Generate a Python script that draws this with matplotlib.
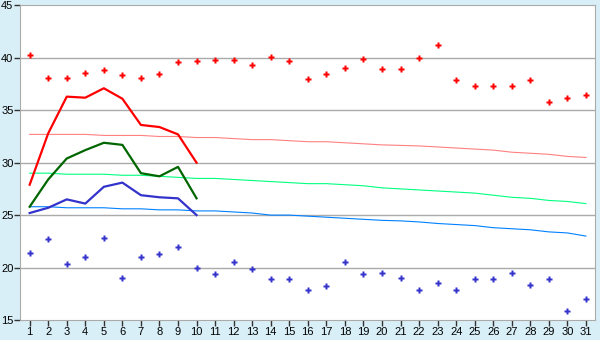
import numpy as np
import matplotlib.pyplot as plt

# %% Data
days = list(range(1, 32))

max_pts = [40.3, 38.1, 38.1, 38.6, 38.8, 38.4, 38.1, 38.5, 39.6, 39.7,
           39.8, 39.8, 39.3, 40.1, 39.7, 38.0, 38.5, 39.0, 39.9, 38.9,
           38.9, 40.0, 41.2, 37.9, 37.3, 37.3, 37.3, 37.9, 35.8, 36.2, 36.5]
min_pts = [21.4, 22.7, 20.3, 21.0, 22.8, 19.0, 21.0, 21.3, 22.0, 20.0,
           19.4, 20.5, 19.9, 18.9, 18.9, 17.9, 18.2, 20.5, 19.4, 19.5,
           19.0, 17.9, 18.5, 17.9, 18.9, 18.9, 19.5, 18.3, 18.9, 15.9, 17.0]

line_days = list(range(1, 11))
max_line = [27.9, 32.8, 36.3, 36.2, 37.1, 36.1, 33.6, 33.4, 32.7, 30.0]
mean_line = [25.8, 28.4, 30.4, 31.2, 31.9, 31.7, 29.0, 28.7, 29.6, 26.6]
min_line = [25.2, 25.7, 26.5, 26.1, 27.7, 28.1, 26.9, 26.7, 26.6, 25.0]

norm_max = [32.7, 32.7, 32.7, 32.7, 32.6, 32.6, 32.6, 32.5, 32.5, 32.4,
            32.4, 32.3, 32.2, 32.2, 32.1, 32.0, 32.0, 31.9, 31.8, 31.7,
            31.65, 31.6, 31.5, 31.4, 31.3, 31.2, 31.0, 30.9, 30.8, 30.6, 30.5]
norm_mean = [29.0, 29.0, 28.9, 28.9, 28.9, 28.8, 28.8, 28.7, 28.6, 28.5,
             28.5, 28.4, 28.3, 28.2, 28.1, 28.0, 28.0, 27.9, 27.8, 27.6,
             27.5, 27.4, 27.3, 27.2, 27.1, 26.9, 26.7, 26.6, 26.4, 26.3, 26.1]
norm_min = [25.8, 25.8, 25.7, 25.7, 25.7, 25.6, 25.6, 25.5, 25.5, 25.4,
            25.4, 25.3, 25.2, 25.0, 25.0, 24.9, 24.8, 24.7, 24.6, 24.5,
            24.45, 24.35, 24.2, 24.1, 24.0, 23.8, 23.7, 23.6, 23.4, 23.3, 23.0]

y_ticks = [15, 20, 25, 30, 35, 40, 45]

# %% Plot
fig = plt.figure(figsize=(6, 3.4), dpi=100, facecolor='#d9eff7')
ax = fig.add_axes([0.034, 0.059, 0.958, 0.925])
ax.set_facecolor('white')

for y in y_ticks[1:-1]:
    ax.axhline(y, color='#aaaaaa', lw=1, zorder=1)

ax.plot(days, norm_max, color='#ff8080', lw=0.8, zorder=2)
ax.plot(days, norm_mean, color='#00ff80', lw=0.8, zorder=2)
ax.plot(days, norm_min, color='#0080ff', lw=0.8, zorder=2)

ax.plot(line_days, max_line, color='#ff0000', lw=1.6, zorder=3)
ax.plot(line_days, mean_line, color='#006600', lw=1.6, zorder=3)
ax.plot(line_days, min_line, color='#3333cc', lw=1.6, zorder=3)

ax.plot(days, max_pts, ls='none', marker='P', ms=4, color='#ff0000',
        mec='none', zorder=4)
ax.plot(days, min_pts, ls='none', marker='P', ms=4, color='#3333cc',
        mec='none', zorder=4)

ax.set_xlim(0.5, 31.5)
ax.set_ylim(15, 45)
ax.set_xticks(days)
ax.set_yticks(y_ticks)
for s in ax.spines.values():
    s.set_color('#aaaaaa')
ax.tick_params(direction='out', length=4, width=1, color='#333333',
               labelsize=8, pad=1)
for lab in ax.get_xticklabels() + ax.get_yticklabels():
    lab.set_family('Liberation Sans')

fig.savefig('out.png', dpi=100, facecolor=fig.get_facecolor())
